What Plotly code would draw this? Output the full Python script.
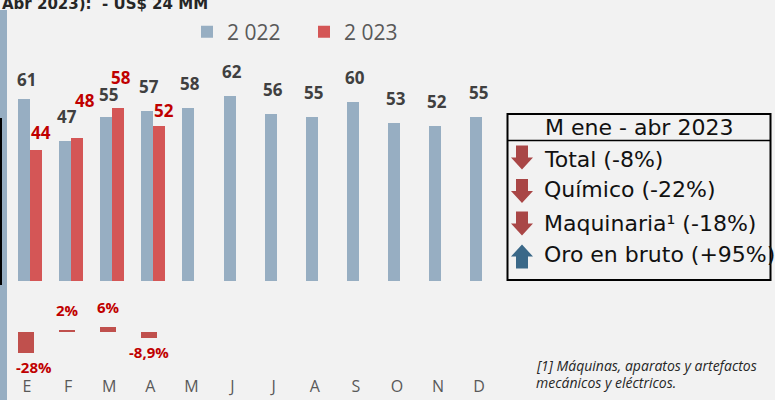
import plotly.graph_objects as go

# ---------------- data ----------------
months = ["E", "F", "M", "A", "M", "J", "J", "A", "S", "O", "N", "D"]
v2022 = [61, 47, 55, 57, 58, 62, 56, 55, 60, 53, 52, 55]
v2023 = [44, 48, 58, 52]
var_pct = [-28, 2, 6, -8.9]
var_text = ["-28%", "2%", "6%", "-8,9%"]
series_names = ["2 022", "2 023"]
title_text = "Abr 2023):\u00a0\u00a0- US$ 24 MM"
box_title = "M ene - abr 2023"
box_items = ["Total (-8%)", "Químico (-22%)", "Maquinaria¹ (-18%)", "Oro en bruto (+95%)"]
box_dirs = ["down", "down", "down", "up"]
footnote_lines = ["[1] Máquinas, aparatos y artefactos", "mecánicos y eléctricos."]

# ---------------- style ----------------
BG = "#f2f2f2"
BLUE = "#97aec2"
RED = "#d45656"
VARRED = "#c0504d"
W, H = 775, 400
MB = 25
PH = H - MB
STEP = 41.1
X0 = 27
xr = [-X0 / STEP, -X0 / STEP + W / STEP]

def X(px):
    return px / W

def Y(py):
    return (PH - py) / PH

fig = go.Figure()
fig.add_trace(go.Bar(x=list(range(len(v2022))), y=v2022, name=series_names[0],
                     marker=dict(color=BLUE, line=dict(width=0)),
                     width=0.292, offset=-0.219, hoverinfo="skip"))
fig.add_trace(go.Bar(x=list(range(len(v2023))), y=v2023, name=series_names[1],
                     marker=dict(color=RED, line=dict(width=0)),
                     width=0.28, offset=0.073, hoverinfo="skip"))
fig.add_trace(go.Bar(x=list(range(len(var_pct))), y=var_pct, yaxis="y2",
                     marker=dict(color=VARRED, line=dict(width=0)),
                     width=0.39, offset=-0.219, showlegend=False, hoverinfo="skip"))

ann = []
# value labels 2022
blue_dy = [19, 24, 22, 24, 24, 24, 24, 24, 24, 24, 24, 24]
for i, v in enumerate(v2022):
    ann.append(dict(x=i, y=v, xref="x", yref="y", text=str(v), showarrow=False,
                    xanchor="center", yanchor="middle", xshift=-1, yshift=blue_dy[i],
                    font=dict(family="Open Sans", size=17, color="#404040", weight="bold")))
# value labels 2023
red_dx = [13.5, 16.4, 11.3, 13.5]
red_dy = [17.6, 37, 30, 15.7]
for i, v in enumerate(v2023):
    ann.append(dict(x=i, y=v, xref="x", yref="y", text=str(v), showarrow=False,
                    xanchor="center", yanchor="middle", xshift=red_dx[i], yshift=red_dy[i],
                    font=dict(family="Open Sans", size=17, color="#c00000", weight="bold")))
# variation labels
var_dx = [8, 0, 0, 0]
for i, v in enumerate(var_pct):
    ann.append(dict(x=i - 0.219 + 0.195, y=v, xref="x", yref="y2", text=var_text[i], showarrow=False,
                    xanchor="center", yanchor="middle", xshift=var_dx[i],
                    yshift=19.5 if v > 0 else -14,
                    font=dict(family="Open Sans", size=15, color="#c00000", weight="bold")))

# title (cut at top)
ann.append(dict(x=X(0), y=Y(4), xref="paper", yref="paper", text="<b>" + title_text + "</b>",
                showarrow=False, xanchor="left", yanchor="middle",
                font=dict(family="DejaVu Sans", size=15, color="#262626")))

# summary box texts
ann.append(dict(x=X(639), y=Y(127), xref="paper", yref="paper", text=box_title, showarrow=False,
                xanchor="center", yanchor="middle",
                font=dict(family="DejaVu Sans", size=22, color="#111111")))
item_y = [159, 190, 223, 255]
for t, yy in zip(box_items, item_y):
    ann.append(dict(x=X(542), y=Y(yy), xref="paper", yref="paper", text=t, showarrow=False,
                    xanchor="left", yanchor="middle",
                    font=dict(family="DejaVu Sans", size=22, color="#111111")))

# footnote
for t, yy in zip(footnote_lines, [365, 382]):
    ann.append(dict(x=X(535), y=Y(yy), xref="paper", yref="paper", text="<i>" + t + "</i>",
                    showarrow=False, xanchor="left", yanchor="middle", align="left", borderpad=0,
                    font=dict(family="Open Sans", size=14, color="#262626")))

shapes = []
# left strip and box edge
shapes.append(dict(type="rect", xref="paper", yref="paper", x0=X(0), x1=X(7), y0=Y(10), y1=Y(400),
                   fillcolor=BLUE, line=dict(width=0), layer="below"))
shapes.append(dict(type="line", xref="paper", yref="paper", x0=X(1), x1=X(1), y0=Y(118), y1=Y(285),
                   line=dict(color="#000000", width=2)))
# summary box
shapes.append(dict(type="rect", xref="paper", yref="paper", x0=X(507.5), x1=X(770.5), y0=Y(114), y1=Y(280),
                   line=dict(color="#000000", width=2), fillcolor="rgba(0,0,0,0)"))
shapes.append(dict(type="line", xref="paper", yref="paper", x0=X(507.5), x1=X(770.5), y0=Y(140.5), y1=Y(140.5),
                   line=dict(color="#000000", width=1.5)))

def arrow(cx, cy, direction, color):
    h = 24.0
    hh = 12.0
    sw = 6.0
    hw = 11.0
    if direction == "down":
        top, tip = cy - h / 2, cy + h / 2
        hs = tip - hh
        pts = [(cx - sw, top), (cx + sw, top), (cx + sw, hs), (cx + hw, hs), (cx, tip),
               (cx - hw, hs), (cx - sw, hs)]
    else:
        tip, bot = cy - h / 2, cy + h / 2
        hs = tip + hh
        pts = [(cx - sw, bot), (cx + sw, bot), (cx + sw, hs), (cx + hw, hs), (cx, tip),
               (cx - hw, hs), (cx - sw, hs)]
    path = "M " + " L ".join(f"{X(px):.5f},{Y(py):.5f}" for px, py in pts) + " Z"
    return dict(type="path", xref="paper", yref="paper", path=path, fillcolor=color,
                line=dict(width=0))

arrow_y = [157.5, 191, 223.5, 256.5]
for d, yy in zip(box_dirs, arrow_y):
    shapes.append(arrow(522, yy, d, "#a94646" if d == "down" else "#3a6888"))

fig.update_layout(
    width=W, height=H,
    margin=dict(l=0, r=0, t=0, b=MB, pad=0),
    paper_bgcolor=BG, plot_bgcolor=BG,
    barmode="overlay",
    bargap=0,
    xaxis=dict(range=xr, tickmode="array", tickvals=list(range(len(months))), ticktext=months,
               showgrid=False, zeroline=False, showline=False, ticks="",
               tickfont=dict(family="Open Sans", size=16, color="#595959")),
    yaxis=dict(range=[-31.49, 94.14], visible=False, showgrid=False, zeroline=False),
    yaxis2=dict(range=[-56.13, 427.74], overlaying="y", visible=False, showgrid=False, zeroline=False),
    legend=dict(orientation="h", x=X(187), y=Y(32), xanchor="left", yanchor="middle",
                font=dict(family="Open Sans", size=21, color="#595959"),
                bgcolor="rgba(0,0,0,0)", entrywidth=72, entrywidthmode="pixels",
                traceorder="normal"),
    showlegend=True,
    annotations=ann,
    shapes=shapes,
)

fig.write_html("out.html",
               config={"displayModeBar": False},
               post_script="document.body.style.margin='0';document.body.style.padding='0';"
                           "document.body.style.overflow='hidden';"
                           "document.body.style.background='" + BG + "';")
